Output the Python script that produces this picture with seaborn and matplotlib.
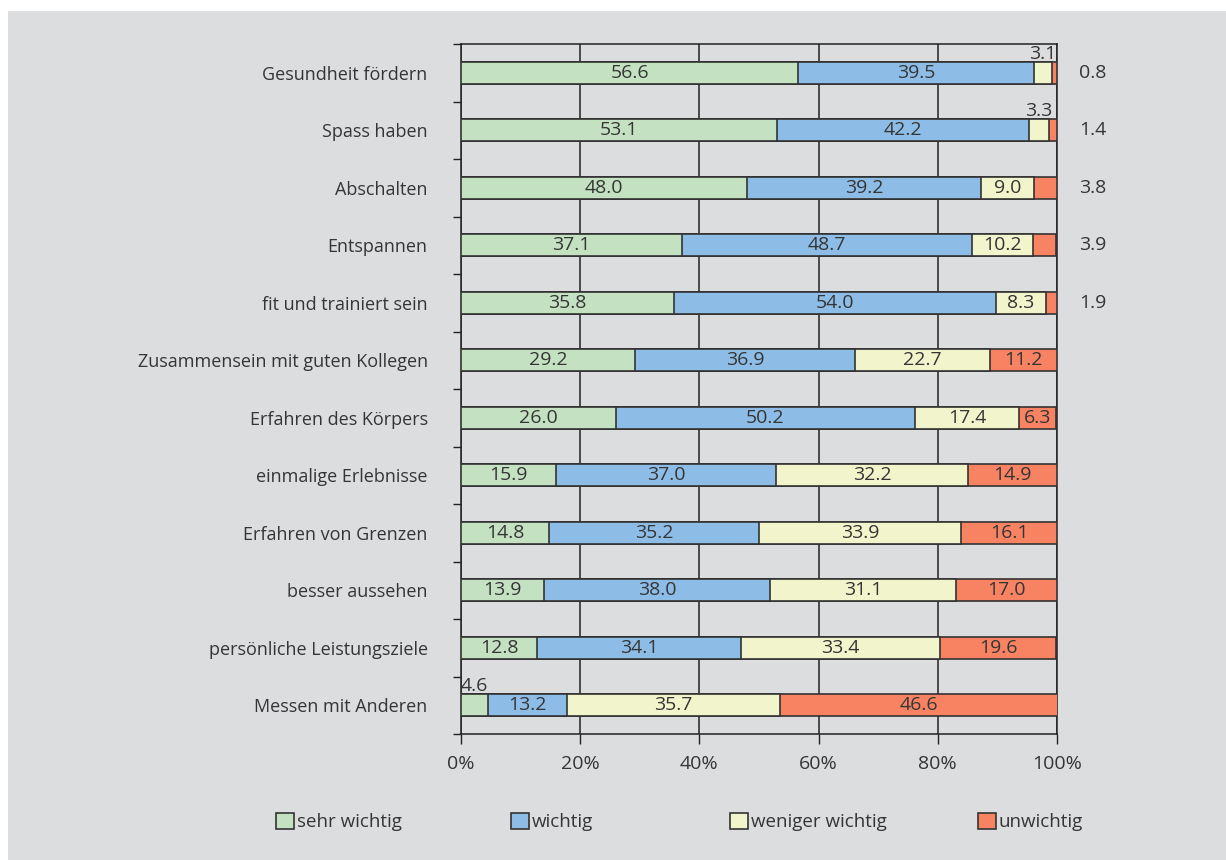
import matplotlib
matplotlib.use("Agg")
import matplotlib.pyplot as plt
import matplotlib.patches as mpatches
import seaborn as sns
import numpy as np
import pandas as pd

categories = ["Gesundheit fördern", "Spass haben", "Abschalten", "Entspannen",
              "fit und trainiert sein", "Zusammensein mit guten Kollegen",
              "Erfahren des Körpers", "einmalige Erlebnisse", "Erfahren von Grenzen",
              "besser aussehen", "persönliche Leistungsziele", "Messen mit Anderen"]
sehr_wichtig = [56.6, 53.1, 48.0, 37.1, 35.8, 29.2, 26.0, 15.9, 14.8, 13.9, 12.8, 4.6]
wichtig = [39.5, 42.2, 39.2, 48.7, 54.0, 36.9, 50.2, 37.0, 35.2, 38.0, 34.1, 13.2]
weniger_wichtig = [3.1, 3.3, 9.0, 10.2, 8.3, 22.7, 17.4, 32.2, 33.9, 31.1, 33.4, 35.7]
unwichtig = [0.8, 1.4, 3.8, 3.9, 1.9, 11.2, 6.3, 14.9, 16.1, 17.0, 19.6, 46.6]
series_names = ["sehr wichtig", "wichtig", "weniger wichtig", "unwichtig"]
x_ticks = [0, 20, 40, 60, 80, 100]
x_ticklabels = ["0%", "20%", "40%", "60%", "80%", "100%"]

colors = ["#c4e2c2", "#8dbde6", "#f2f4cb", "#f88363"]
bg = "#dcdddf"
txt = "#353535"
edge = "#333333"

sns.set_theme(style="white")
plt.rcParams['font.family'] = ['Open Sans', 'DejaVu Sans']
plt.rcParams['text.color'] = txt

series = [sehr_wichtig, wichtig, weniger_wichtig, unwichtig]
cum = np.cumsum(np.array(series), axis=0)  # shape 4 x n

fig = plt.figure(figsize=(12.26, 8.6), dpi=100, facecolor="white")
fig.patches.append(mpatches.Rectangle((8 / 1226, 0), 1, 1 - 11 / 860,
                                      transform=fig.transFigure, facecolor=bg,
                                      edgecolor="none", zorder=-10))
ax = fig.add_axes([461 / 1226, 1 - 734 / 860, (1057 - 461) / 1226, (734 - 44) / 860])
ax.set_facecolor(bg)

# stacked bars: draw cumulative totals from the last series back to the first
for i in range(3, -1, -1):
    df = pd.DataFrame({"cat": categories, "val": cum[i]})
    sns.barplot(data=df, y="cat", x="val", orient="h", color=colors[i],
                saturation=1, width=0.38, edgecolor=edge, linewidth=1.2,
                errorbar=None, ax=ax, zorder=3)

ax.set_xlim(0, 100)
ax.set_ylim(len(categories) - 0.5, -0.5)
ax.set_xlabel("")
ax.set_ylabel("")

# value labels
n = len(categories)
vfs = 14
for j in range(n):
    for i in range(4):
        v = series[i][j]
        start = cum[i][j] - v
        center = start + v / 2
        if i == 3 and v < 5:
            ax.text(106, j, f"{v:.1f}", ha="center", va="center",
                    fontsize=vfs, color=txt, clip_on=False)
        elif v < 5:
            ax.text(center, j - 0.17, f"{v:.1f}", ha="center", va="bottom",
                    fontsize=vfs, color=txt, zorder=5)
        else:
            ax.text(center, j, f"{v:.1f}", ha="center", va="center",
                    fontsize=vfs, color=txt, zorder=5)

# gridlines
ax.set_xticks(x_ticks)
ax.set_xticklabels(x_ticklabels, fontsize=14, color=txt)
ax.xaxis.grid(True, color="#222222", linewidth=1.1, zorder=0)
ax.set_axisbelow(True)
ax.tick_params(axis="x", which="major", direction="out", length=7, width=1,
               color="#222222", pad=8, bottom=True)
ax.set_yticks(range(n))
ax.set_yticklabels(categories, fontsize=13, color=txt)
ax.set_yticks(np.arange(-0.5, n, 1), minor=True)
ax.tick_params(axis="y", which="major", length=0, pad=24)
ax.tick_params(axis="y", which="minor", direction="out", length=6, width=1,
               color="#222222", left=True)
for s in ["left", "bottom", "top", "right"]:
    ax.spines[s].set_visible(True)
    ax.spines[s].set_color("#222222")
    ax.spines[s].set_linewidth(1.1)

# legend: one entry per slot
legend_x = [276, 511, 730, 978]
for name, col, lx in zip(series_names, colors, legend_x):
    h = mpatches.Patch(facecolor=col, edgecolor=edge, linewidth=1.2, label=name)
    fig.legend(handles=[h], loc="center left", bbox_to_anchor=(lx / 1226, 1 - 822 / 860),
               frameon=False, fontsize=13.5, handlelength=0.96, handleheight=0.96,
               handletextpad=0.15, borderpad=0, borderaxespad=0, labelcolor=txt)

fig.savefig("out.png", dpi=100, facecolor="white")
